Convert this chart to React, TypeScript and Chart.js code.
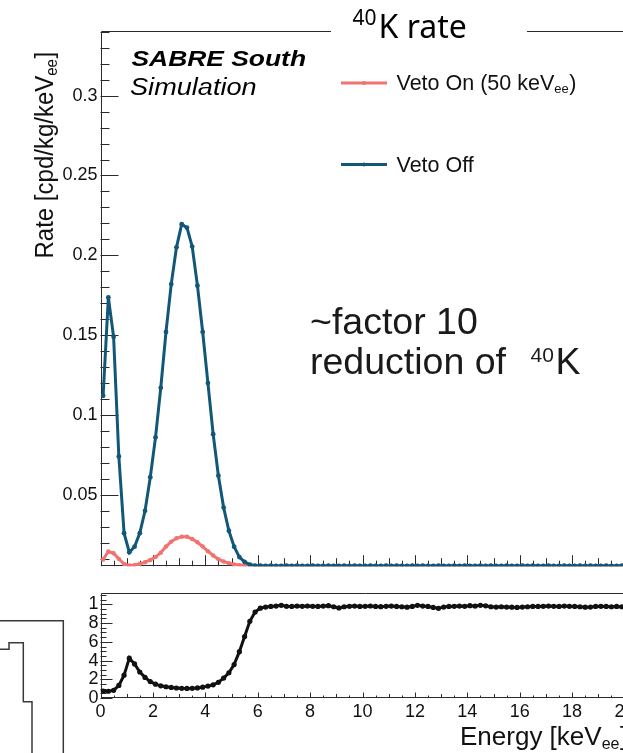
import React, { useEffect, useRef } from "react";
import { Chart, registerables } from "chart.js";

Chart.register(...registerables);

// ---------------- data ----------------
const ENERGY = [
  0.1, 0.3, 0.5, 0.7, 0.9, 1.1, 1.3, 1.5, 1.7, 1.9,
  2.1, 2.3, 2.5, 2.7, 2.9, 3.1, 3.3, 3.5, 3.7, 3.9,
  4.1, 4.3, 4.5, 4.7, 4.9, 5.1, 5.3, 5.5, 5.7, 5.9,
  6.1, 6.3, 6.5, 6.7, 6.9, 7.1, 7.3, 7.5, 7.7, 7.9,
  8.1, 8.3, 8.5, 8.7, 8.9, 9.1, 9.3, 9.5, 9.7, 9.9,
  10.1, 10.3, 10.5, 10.7, 10.9, 11.1, 11.3, 11.5, 11.7, 11.9,
  12.1, 12.3, 12.5, 12.7, 12.9, 13.1, 13.3, 13.5, 13.7, 13.9,
  14.1, 14.3, 14.5, 14.7, 14.9, 15.1, 15.3, 15.5, 15.7, 15.9,
  16.1, 16.3, 16.5, 16.7, 16.9, 17.1, 17.3, 17.5, 17.7, 17.9,
  18.1, 18.3, 18.5, 18.7, 18.9, 19.1, 19.3, 19.5, 19.7, 19.9,
];

const VETO_OFF = [
  0.112, 0.1736, 0.149, 0.074, 0.026, 0.014, 0.0175, 0.026, 0.04, 0.061,
  0.086, 0.117, 0.152, 0.182, 0.205, 0.2195, 0.2173, 0.2055, 0.181, 0.152,
  0.12, 0.088, 0.062, 0.042, 0.0275, 0.0175, 0.011, 0.008, 0.0063, 0.0057,
  0.0056, 0.0055, 0.0056, 0.0055, 0.0055, 0.0056, 0.0055, 0.0056, 0.0055, 0.0055,
  0.0056, 0.0055, 0.0055, 0.0056, 0.0055, 0.0055, 0.0056, 0.0055, 0.0056, 0.0055,
  0.0055, 0.0056, 0.0055, 0.0055, 0.0056, 0.0055, 0.0056, 0.0055, 0.0055, 0.0056,
  0.0055, 0.0056, 0.0055, 0.0055, 0.0056, 0.0055, 0.0055, 0.0056, 0.0055, 0.0056,
  0.0055, 0.0055, 0.0056, 0.0055, 0.0056, 0.0055, 0.0055, 0.0056, 0.0055, 0.0055,
  0.0056, 0.0055, 0.0056, 0.0055, 0.0055, 0.0056, 0.0055, 0.0055, 0.0056, 0.0055,
  0.0055, 0.0056, 0.0055, 0.0056, 0.0055, 0.0055, 0.0056, 0.0055, 0.0055, 0.0056,
];

const VETO_ON = [
  0.0095, 0.0145, 0.0134, 0.0099, 0.0067, 0.0057, 0.006, 0.0067, 0.0078, 0.0092,
  0.011, 0.0138, 0.0176, 0.0207, 0.0228, 0.0238, 0.0238, 0.0223, 0.0203, 0.0176,
  0.0147, 0.012, 0.0097, 0.0082, 0.0072, 0.0064, 0.006, 0.0057, 0.0056, 0.0055,
  0.0055, 0.0054, 0.0055, 0.0054, 0.0055, 0.0055, 0.0054, 0.0055, 0.0054, 0.0055,
  0.0055, 0.0054, 0.0055, 0.0055, 0.0054, 0.0054, 0.0055, 0.0054, 0.0055, 0.0055,
  0.0054, 0.0055, 0.0055, 0.0054, 0.0055, 0.0054, 0.0055, 0.0055, 0.0054, 0.0055,
  0.0055, 0.0054, 0.0055, 0.0054, 0.0054, 0.0055, 0.0055, 0.0054, 0.0055, 0.0055,
  0.0055, 0.0055, 0.0054, 0.0055, 0.0054, 0.0055, 0.0054, 0.0055, 0.0054, 0.0054,
  0.0055, 0.0054, 0.0055, 0.0055, 0.0054, 0.0055, 0.0054, 0.0055, 0.0055, 0.0054,
  0.0055, 0.0054, 0.0054, 0.0055, 0.0054, 0.0055, 0.0055, 0.0054, 0.0055, 0.0054,
];

const RATIO = [
  0.075, 0.072, 0.082, 0.134, 0.244, 0.426, 0.364, 0.278, 0.22, 0.175,
  0.148, 0.13, 0.12, 0.113, 0.107, 0.103, 0.102, 0.103, 0.108, 0.116,
  0.127, 0.141, 0.168, 0.213, 0.27, 0.357, 0.495, 0.656, 0.82, 0.918,
  0.96, 0.972, 0.978, 0.982, 0.99, 0.98, 0.978, 0.982, 0.98, 0.983,
  0.98, 0.978, 0.982, 0.986, 0.975, 0.962, 0.975, 0.98, 0.982, 0.978,
  0.98, 0.983, 0.978, 0.976, 0.98, 0.982, 0.978, 0.975, 0.97, 0.978,
  0.99, 0.982, 0.978, 0.968, 0.958, 0.972, 0.978, 0.98, 0.982, 0.98,
  0.986, 0.982, 0.99, 0.985, 0.975, 0.972, 0.975, 0.972, 0.97, 0.968,
  0.972, 0.975, 0.978, 0.978, 0.98, 0.982, 0.98, 0.978, 0.982, 0.98,
  0.978, 0.975, 0.97, 0.972, 0.978, 0.98, 0.978, 0.975, 0.978, 0.975,
];

const RATE_MIN = 0.0053;
const RATE_MAX = 0.3405;
const RATIO_MIN = 0;
const RATIO_MAX = 1.124;
const E_MIN = 0;
const E_MAX = 20;
const RATIO_TICK_TEXT: Record<number, string> = { 0: "0", 2: "2", 4: "4", 6: "6", 8: "8", 10: "1" };

// ---------------- style ----------------
const W = 660;
const TOP_H = 580;
const BOT_H = 173;
const FONT = "'Liberation Sans', Arial, Helvetica, sans-serif";
const TITLE_FONT = "'Noto Sans', 'Open Sans', sans-serif";
const C_OFF = "#125777";
const C_ON = "#f0736f";
const C_RATIO = "#111111";
const FRAME = "#2b2b2b";
const TEXT = "#111111";

function line(ctx: CanvasRenderingContext2D, x1: number, y1: number, x2: number, y2: number) {
  ctx.beginPath();
  ctx.moveTo(x1, y1);
  ctx.lineTo(x2, y2);
  ctx.stroke();
}

function text(ctx: CanvasRenderingContext2D, s: string, x: number, y: number, font: string, sx = 1) {
  ctx.save();
  ctx.font = font;
  ctx.translate(x, y);
  ctx.scale(sx, 1);
  ctx.fillText(s, 0, 0);
  const w = ctx.measureText(s).width * sx;
  ctx.restore();
  return w;
}

const topDecor = {
  id: "topDecor",
  beforeDatasetsDraw(chart: any) {
    const { ctx, chartArea: a, scales } = chart;
    ctx.save();
    ctx.strokeStyle = FRAME;
    ctx.lineWidth = 1;
    for (let k = 1; k <= 34; k++) {
      const v = k / 100;
      if (v < RATE_MIN || v > RATE_MAX) continue;
      const py = Math.round(scales.y.getPixelForValue(v)) + 0.5;
      line(ctx, a.left, py, a.left + (k % 5 === 0 ? 18 : 9), py);
    }
    for (let k = 0; k <= 40; k++) {
      const px = Math.round(scales.x.getPixelForValue(k * 0.5)) + 0.5;
      const len = k % 4 === 0 ? 11 : k % 2 === 0 ? 8 : 5.5;
      line(ctx, px, a.bottom, px, a.bottom - len);
    }
    const L = Math.round(a.left) + 0.5;
    const T = Math.round(a.top) + 0.5;
    const B = Math.round(a.bottom) - 0.5;
    line(ctx, L, T, L, B);
    line(ctx, L, B, a.right + 5, B);
    line(ctx, L, T, 331, T);
    line(ctx, 527, T, a.right + 5, T);
    ctx.restore();
  },
  afterDraw(chart: any) {
    const { ctx } = chart;
    ctx.save();
    ctx.fillStyle = "#000";
    ctx.textBaseline = "alphabetic";
    // title
    text(ctx, "40", 352.5, 25, `21px ${TITLE_FONT}`);
    text(ctx, "K rate", 378.5, 37.5, `32px ${TITLE_FONT}`);
    // SABRE label
    text(ctx, "SABRE South", 131.5, 66, `italic bold 22px ${FONT}`, 1.2);
    text(ctx, "Simulation", 130, 95, `italic 23px ${FONT}`, 1.18);
    // legend
    ctx.lineCap = "butt";
    ctx.lineWidth = 3;
    ctx.strokeStyle = C_ON;
    line(ctx, 341, 83, 387, 83);
    ctx.fillStyle = C_ON;
    ctx.beginPath();
    ctx.arc(364, 83, 2, 0, Math.PI * 2);
    ctx.fill();
    ctx.strokeStyle = C_OFF;
    line(ctx, 341, 164.5, 387, 164.5);
    ctx.fillStyle = C_OFF;
    ctx.beginPath();
    ctx.arc(364, 164.5, 2, 0, Math.PI * 2);
    ctx.fill();
    ctx.fillStyle = TEXT;
    let x = 396.5;
    x += text(ctx, "Veto On (50 keV", x, 90, `21.5px ${FONT}`);
    x += text(ctx, "ee", x, 93, `13px ${FONT}`);
    text(ctx, ")", x + 0.5, 90, `21.5px ${FONT}`);
    text(ctx, "Veto Off", 396.5, 172, `21.5px ${FONT}`);
    // annotation
    ctx.fillStyle = "#1a1a1a";
    text(ctx, "~factor 10", 310, 333.5, `37.5px ${FONT}`);
    text(ctx, "reduction of", 310, 373.5, `37.5px ${FONT}`);
    text(ctx, "40", 530.5, 361.5, `21px ${FONT}`);
    text(ctx, "K", 555.5, 373.5, `37.5px ${FONT}`);
    // y title (rotated)
    ctx.fillStyle = TEXT;
    ctx.save();
    ctx.translate(52.5, 258.5);
    ctx.rotate(-Math.PI / 2);
    ctx.scale(1, 1.1);
    let t = 0;
    ctx.font = `24px ${FONT}`;
    ctx.fillText("Rate [cpd/kg/keV", t, 0);
    t += ctx.measureText("Rate [cpd/kg/keV").width;
    ctx.font = `15px ${FONT}`;
    ctx.fillText("ee", t, 4);
    t += ctx.measureText("ee").width;
    ctx.font = `24px ${FONT}`;
    ctx.fillText("]", t + 0.5, 0);
    ctx.restore();
    ctx.restore();
  },
};

const botDecor = {
  id: "botDecor",
  beforeDatasetsDraw(chart: any) {
    const { ctx, chartArea: a, scales } = chart;
    ctx.save();
    ctx.strokeStyle = FRAME;
    ctx.lineWidth = 1;
    for (let k = 0; k <= 22; k++) {
      const v = k * 0.05;
      if (v > RATIO_MAX) continue;
      const py = Math.round(scales.y.getPixelForValue(v)) + 0.5;
      line(ctx, a.left, py, a.left + (k % 4 === 0 ? 12 : 6), py);
    }
    for (let k = 0; k <= 40; k++) {
      const px = Math.round(scales.x.getPixelForValue(k * 0.5)) + 0.5;
      const len = k % 4 === 0 ? 5.5 : k % 2 === 0 ? 4 : 2.5;
      line(ctx, px, a.bottom, px, a.bottom - len);
    }
    const L = Math.round(a.left) + 0.5;
    const T = Math.round(a.top) + 0.5;
    const B = Math.round(a.bottom) - 0.5;
    line(ctx, L, T, L, B);
    line(ctx, L, B, a.right + 5, B);
    line(ctx, L, T, a.right + 5, T);
    ctx.restore();
  },
  afterDraw(chart: any) {
    const { ctx } = chart;
    ctx.save();
    ctx.fillStyle = TEXT;
    let x = 460;
    x += text(ctx, "Energy [keV", x, 165, `26px ${FONT}`);
    x += text(ctx, "ee", x, 169, `16px ${FONT}`);
    text(ctx, "]", x + 0.5, 165, `26px ${FONT}`);
    // fragment of a neighbouring plot at the lower left
    ctx.strokeStyle = "#3a3a3a";
    ctx.lineWidth = 1.5;
    ctx.beginPath();
    ctx.moveTo(0, 40.7);
    ctx.lineTo(63.3, 40.7);
    ctx.lineTo(63.3, 175);
    ctx.stroke();
    ctx.beginPath();
    ctx.moveTo(0, 69.3);
    ctx.lineTo(9, 69.3);
    ctx.lineTo(9, 62.7);
    ctx.lineTo(23.3, 62.7);
    ctx.lineTo(23.3, 121.7);
    ctx.lineTo(32, 121.7);
    ctx.lineTo(32, 175);
    ctx.stroke();
    ctx.restore();
  },
};

function points(ys: number[]) {
  return ENERGY.map((e, i) => ({ x: e, y: ys[i] }));
}

export default function App() {
  const topRef = useRef<HTMLCanvasElement>(null);
  const botRef = useRef<HTMLCanvasElement>(null);

  useEffect(() => {
    const right = W - 624.5;
    const c1 = new Chart(topRef.current!, {
      type: "line",
      data: {
        datasets: [
          {
            label: "Veto Off",
            data: points(VETO_OFF),
            borderColor: C_OFF,
            backgroundColor: C_OFF,
            pointBackgroundColor: C_OFF,
            borderWidth: 3,
            pointRadius: 2.4,
            pointBorderWidth: 0,
            tension: 0,
          },
          {
            label: "Veto On (50 keVee)",
            data: points(VETO_ON),
            borderColor: C_ON,
            backgroundColor: C_ON,
            pointBackgroundColor: C_ON,
            borderWidth: 3,
            pointRadius: 2.2,
            pointBorderWidth: 0,
            tension: 0,
          },
        ],
      },
      options: {
        responsive: false,
        animation: false,
        devicePixelRatio: 1,
        layout: { padding: { top: 31, right, left: 0, bottom: 0 } },
        plugins: { legend: { display: false }, tooltip: { enabled: false } },
        scales: {
          x: {
            type: "linear",
            min: E_MIN,
            max: E_MAX,
            ticks: { display: false },
            grid: { display: false, drawTicks: false },
            border: { display: false },
            afterFit: (s: any) => {
              s.height = TOP_H - 569;
            },
          },
          y: {
            type: "linear",
            min: RATE_MIN,
            max: RATE_MAX,
            ticks: {
              stepSize: 0.05,
              includeBounds: false,
              autoSkip: false,
              padding: 3,
              color: TEXT,
              font: { family: FONT, size: 18 },
              callback: (v: any) => String(Math.round(Number(v) * 100) / 100),
            },
            grid: { display: false, drawTicks: false },
            border: { display: false },
            afterFit: (s: any) => {
              s.width = 100.5;
            },
          },
        },
      },
      plugins: [topDecor],
    });

    const c2 = new Chart(botRef.current!, {
      type: "line",
      data: {
        datasets: [
          {
            label: "ratio",
            data: points(RATIO),
            borderColor: C_RATIO,
            backgroundColor: C_RATIO,
            pointBackgroundColor: C_RATIO,
            borderWidth: 3,
            pointRadius: 2.6,
            pointBorderWidth: 0,
            tension: 0,
          },
        ],
      },
      options: {
        responsive: false,
        animation: false,
        devicePixelRatio: 1,
        layout: { padding: { top: 9, right, left: 0, bottom: 0 } },
        plugins: { legend: { display: false }, tooltip: { enabled: false } },
        scales: {
          x: {
            type: "linear",
            min: E_MIN,
            max: E_MAX,
            ticks: {
              stepSize: 2,
              padding: 3,
              maxRotation: 0,
              autoSkip: false,
              color: TEXT,
              font: { family: FONT, size: 18 },
            },
            grid: { display: false, drawTicks: false },
            border: { display: false },
            afterFit: (s: any) => {
              s.height = BOT_H - 118;
            },
          },
          y: {
            type: "linear",
            min: RATIO_MIN,
            max: RATIO_MAX,
            ticks: {
              stepSize: 0.2,
              includeBounds: false,
              autoSkip: false,
              padding: 2,
              color: TEXT,
              font: { family: FONT, size: 18 },
              callback: (v: any) => RATIO_TICK_TEXT[Math.round(Number(v) * 10)] ?? "",
            },
            grid: { display: false, drawTicks: false },
            border: { display: false },
            afterFit: (s: any) => {
              s.width = 100.5;
            },
          },
        },
      },
      plugins: [botDecor],
    });

    return () => {
      c1.destroy();
      c2.destroy();
    };
  }, []);

  return (
    <div
      style={{
        position: "fixed",
        left: 0,
        top: 0,
        width: 623,
        height: 753,
        overflow: "hidden",
        background: "#ffffff",
      }}
    >
      <canvas
        ref={topRef}
        width={W}
        height={TOP_H}
        style={{ position: "absolute", left: 0, top: 0, width: W, height: TOP_H }}
      />
      <canvas
        ref={botRef}
        width={W}
        height={BOT_H}
        style={{ position: "absolute", left: 0, top: TOP_H, width: W, height: BOT_H }}
      />
    </div>
  );
}
